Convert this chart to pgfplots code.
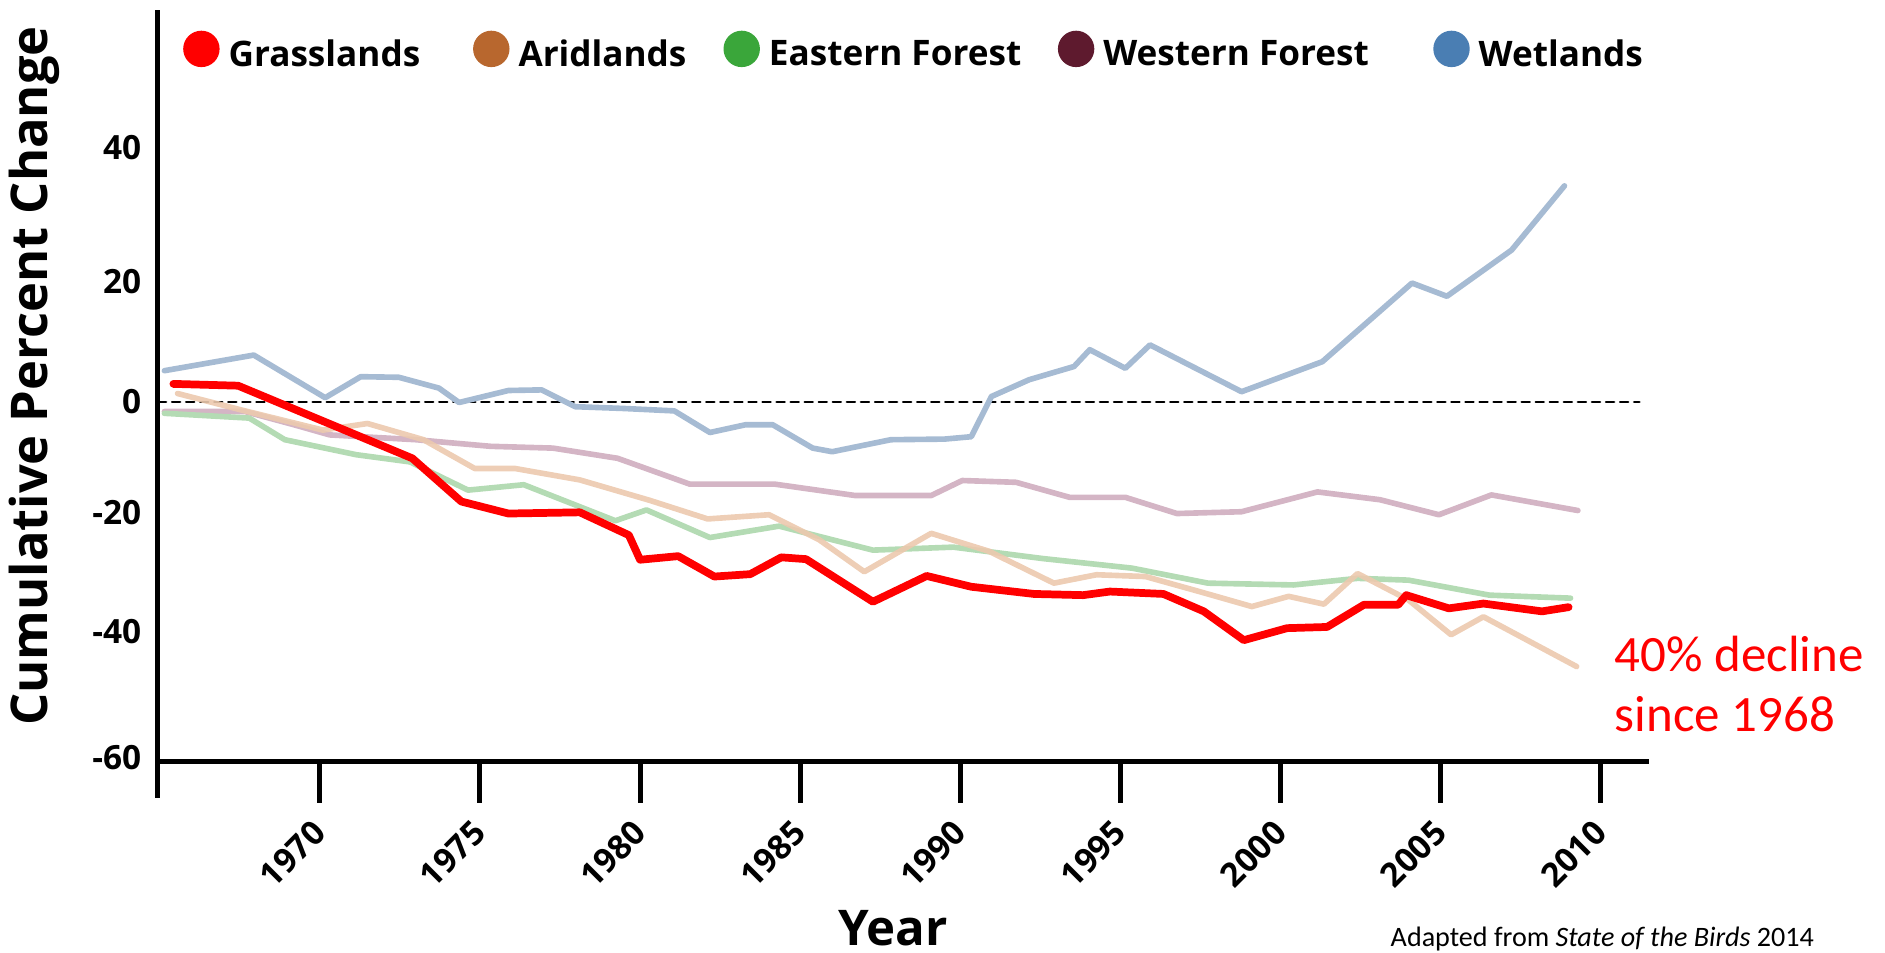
\documentclass[border=0pt]{standalone}
\usepackage{fontspec}
\setmainfont{Open Sans}
\newfontfamily\calib{Carlito}
\usepackage{pgfplots}
\usepackage{pgfplotstable}
\pgfplotsset{compat=1.18}

\definecolor{grassR}{HTML}{FF0000}
\definecolor{wetL}{HTML}{A6BBD3}
\definecolor{wetD}{HTML}{4A7EB3}
\definecolor{westL}{HTML}{D4B5C5}
\definecolor{westD}{HTML}{5E1A2E}
\definecolor{aridL}{HTML}{ECC9AE}
\definecolor{aridD}{HTML}{B8672E}
\definecolor{eastL}{HTML}{B4DBB4}
\definecolor{eastD}{HTML}{3AA63A}

% cumulative percent change
\pgfplotstableread{
year val
1965.43 3.0
1967.45 2.7
1972.89 -9.4
1974.42 -16.6
1975.89 -18.6
1978.12 -18.4
1979.65 -22.2
1980.0 -26.3
1981.19 -25.7
1982.32 -29.1
1983.44 -28.7
1984.41 -25.9
1985.18 -26.2
1987.27 -33.3
1988.95 -29.0
1990.34 -30.8
1992.3 -32.0
1993.83 -32.2
1994.67 -31.6
1996.34 -32.0
1997.6 -34.9
1998.85 -39.7
2000.2 -37.7
2001.45 -37.5
2002.6 -33.8
2003.67 -33.8
2003.92 -32.2
2005.25 -34.4
2006.33 -33.6
2008.16 -34.9
2008.99 -34.2
}\tabgrass

\pgfplotstableread{
year val
1965.15 5.2
1967.94 7.8
1970.17 0.7
1971.28 4.2
1972.47 4.1
1973.72 2.3
1974.35 -0.1
1975.89 1.9
1976.93 2.0
1977.98 -0.8
1979.51 -1.1
1981.07 -1.5
1982.18 -5.1
1983.3 -3.8
1984.14 -3.8
1985.39 -7.7
1986.0 -8.3
1987.83 -6.3
1989.5 -6.2
1990.34 -5.8
1990.97 0.9
1992.15 3.7
1993.55 5.9
1994.04 8.7
1995.15 5.6
1995.92 9.5
1998.78 1.7
2001.3 6.7
2004.1 19.8
2005.19 17.6
2007.21 25.3
2008.86 36.0
}\tabwet

\pgfplotstableread{
year val
1965.15 -1.6
1967.66 -1.6
1969.19 -3.8
1970.31 -5.5
1973.0 -6.3
1975.33 -7.4
1977.28 -7.7
1979.3 -9.4
1981.55 -13.7
1984.2 -13.7
1986.72 -15.6
1989.09 -15.6
1990.06 -13.1
1991.74 -13.4
1993.41 -15.9
1995.15 -15.9
1996.76 -18.6
1998.78 -18.3
2001.15 -15.0
2003.1 -16.3
2004.94 -18.8
2006.58 -15.5
2009.28 -18.1
}\tabwest

\pgfplotstableread{
year val
1965.56 1.4
1967.52 -1.3
1970.1 -4.7
1971.49 -3.6
1973.24 -6.3
1974.84 -11.1
1976.1 -11.1
1978.12 -13.0
1980.3 -16.4
1982.11 -19.5
1984.03 -18.8
1985.6 -23.0
1987.0 -28.3
1989.09 -21.9
1990.9 -24.9
1992.92 -30.2
1994.25 -28.8
1995.78 -29.1
1997.46 -31.6
1999.1 -34.1
2000.25 -32.4
2001.35 -33.7
2002.4 -28.6
2003.99 -33.0
2005.32 -38.8
2006.33 -35.8
2009.24 -44.1
}\tabarid

\pgfplotstableread{
year val
1965.15 -1.9
1967.8 -2.7
1968.91 -6.3
1971.14 -8.8
1972.82 -10.0
1974.63 -14.7
1976.37 -13.8
1979.23 -19.8
1980.2 -18.0
1982.18 -22.6
1984.34 -20.7
1987.27 -24.7
1989.78 -24.2
1992.57 -26.1
1995.36 -27.7
1997.73 -30.2
2000.4 -30.5
2002.4 -29.4
2003.99 -29.7
2006.52 -32.2
2009.05 -32.7
}\tabeast

\begin{document}
\begin{tikzpicture}
\useasboundingbox (-1.58cm,-1.91cm) rectangle (17.27cm,7.62cm);
\begin{axis}[
  at={(0,0)}, anchor=south west,
  scale only axis, width=14.91cm, height=7.52cm,
  xmin=1964.95, xmax=2011.5, ymin=-60, ymax=65.3,
  axis x line*=bottom, axis y line*=left,
  axis line style={line width=0.05cm, black},
  xtick={1970,1975,...,2010},
  ytick={-59.2,-38.3,-18.5,0,20,42.4},
  yticklabels={-60,-40,-20,0,20,40},
  tick align=outside, major tick length=0.41cm,
  xtick style={line width=0.05cm, black},
  ytick style={draw=none},
  /pgf/number format/1000 sep={},
  /pgf/number format/assume math mode=true,
  tick label style={font=\bfseries\fontsize{9.5}{11}\selectfont, inner sep=0pt},
  xticklabel style={rotate=45, anchor=east},
  xticklabel shift=0.235cm,
  yticklabel style={anchor=east, xshift=0.25cm},
  xlabel={Year},
  xlabel style={font=\bfseries\fontsize{14}{16}\selectfont, at={(axis description cs:0.493,-0.2434)}, anchor=base, inner sep=0pt},
  ylabel={Cumulative Percent Change},
  ylabel style={font=\bfseries\fontsize{14.4}{16}\selectfont, at={(axis description cs:-0.0832,0.5133)}, anchor=center, inner sep=0pt},
  clip=false,
  legend columns=-1,
  legend style={draw=none, fill=none, inner sep=0pt,
    at={(axis description cs:0,1)}, anchor=north west, xshift=0.245cm, yshift=-0.20cm,
    font=\bfseries\fontsize{10}{12}\selectfont, nodes={inner sep=0pt},
    /tikz/every odd column/.append style={column sep=0.09cm}},
  every axis plot/.append style={line join=round, line cap=round},
]
\addlegendimage{legend image code/.code={\fill[grassR] (0.175cm,0.07cm) circle[radius=0.175cm];}}
\addlegendimage{legend image code/.code={\fill[aridD] (0.175cm,0.07cm) circle[radius=0.175cm];}}
\addlegendimage{legend image code/.code={\fill[eastD] (0.175cm,0.07cm) circle[radius=0.175cm];}}
\addlegendimage{legend image code/.code={\fill[westD] (0.175cm,0.07cm) circle[radius=0.175cm];}}
\addlegendimage{legend image code/.code={\fill[wetD] (0.175cm,0.07cm) circle[radius=0.175cm];}}
\legend{\makebox[2.445cm][l]{Grasslands}, \makebox[2.05cm][l]{Aridlands}, \makebox[2.89cm][l]{Eastern Forest}, \makebox[3.30cm][l]{Western Forest}, Wetlands}

\addplot[forget plot, black, line width=0.7pt, dash pattern=on 2.3pt off 1.7pt] coordinates {(1964.95,0) (2011.2,0)};
\addplot[forget plot, wetL, line width=1.6pt] table[x=year, y=val] {\tabwet};
\addplot[forget plot, westL, line width=1.6pt] table[x=year, y=val] {\tabwest};
\addplot[forget plot, eastL, line width=1.6pt] table[x=year, y=val] {\tabeast};
\addplot[forget plot, aridL, line width=1.6pt, opacity=0.9] table[x=year, y=val] {\tabarid};
\addplot[forget plot, grassR, line width=2.2pt] table[x=year, y=val] {\tabgrass};

\draw[line width=0.05cm] (axis description cs:0,0.01) -- (axis description cs:0,-0.0479);
\node[anchor=base west, text=grassR, font=\calib\fontsize{14.5}{17}\selectfont, inner sep=0pt] at (axis description cs:0.9765,0.1197) {40\% decline};
\node[anchor=base west, text=grassR, font=\calib\fontsize{14.5}{17}\selectfont, inner sep=0pt] at (axis description cs:0.9765,0.0399) {since 1968};
\node[anchor=base west, font=\calib\fontsize{8}{9}\selectfont, inner sep=0pt] at (axis description cs:0.8263,-0.246) {Adapted from \textit{State of the Birds} 2014};
\end{axis}
\end{tikzpicture}
\end{document}
